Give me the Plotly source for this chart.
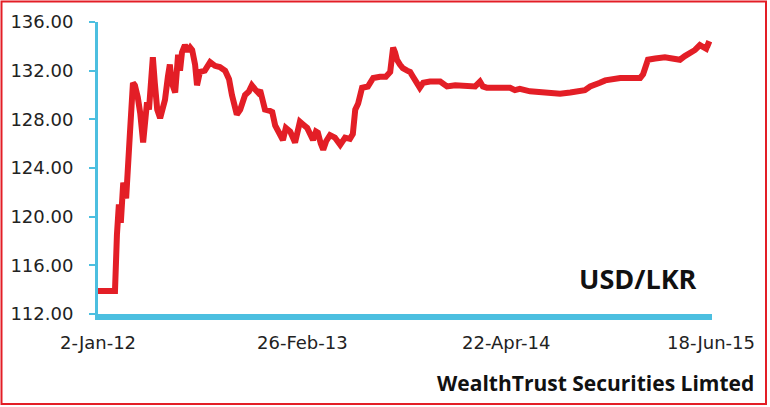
import plotly.graph_objects as go

dates = [
    "2012-01-02", "2012-02-06", "2012-02-10", "2012-02-14", "2012-02-18", "2012-02-23", "2012-02-29",
    "2012-03-04", "2012-03-08", "2012-03-14", "2012-03-18", "2012-03-24", "2012-03-29", "2012-04-04",
    "2012-04-08", "2012-04-12", "2012-04-16", "2012-04-20", "2012-04-24", "2012-04-28", "2012-05-03",
    "2012-05-09", "2012-05-15", "2012-05-19", "2012-05-25", "2012-05-29", "2012-06-02", "2012-06-09",
    "2012-06-15", "2012-06-19", "2012-06-23", "2012-06-29", "2012-07-05", "2012-07-10", "2012-07-14",
    "2012-07-20", "2012-07-24", "2012-07-30", "2012-08-09", "2012-08-20", "2012-08-30", "2012-09-09",
    "2012-09-20", "2012-09-28", "2012-10-04", "2012-10-10", "2012-10-14", "2012-10-21", "2012-10-31",
    "2012-11-08", "2012-11-14", "2012-11-20", "2012-11-27", "2012-12-01", "2012-12-07", "2012-12-11",
    "2012-12-21", "2012-12-26", "2013-01-01", "2013-01-07", "2013-01-13", "2013-01-17", "2013-01-23",
    "2013-02-01", "2013-02-11", "2013-02-17", "2013-02-21", "2013-02-27", "2013-03-08", "2013-03-14",
    "2013-03-20", "2013-03-26", "2013-03-30", "2013-04-05", "2013-04-10", "2013-04-16", "2013-04-24",
    "2013-05-04", "2013-05-15", "2013-05-25", "2013-06-04", "2013-06-10", "2013-06-15", "2013-06-21",
    "2013-06-29", "2013-07-11", "2013-07-22", "2013-08-05", "2013-08-17", "2013-08-26", "2013-09-01",
    "2013-09-05", "2013-09-09", "2013-09-15", "2013-09-21", "2013-09-30", "2013-10-06", "2013-10-12",
    "2013-10-16", "2013-10-22", "2013-10-26", "2013-11-02", "2013-11-16", "2013-12-07", "2013-12-21",
    "2014-01-07", "2014-01-27", "2014-02-17", "2014-02-27", "2014-03-05", "2014-03-13", "2014-03-30",
    "2014-04-09", "2014-04-30", "2014-05-10", "2014-05-20", "2014-06-10", "2014-07-01", "2014-07-21",
    "2014-08-11", "2014-09-01", "2014-09-21", "2014-10-01", "2014-10-12", "2014-10-22", "2014-11-01",
    "2014-11-12", "2014-11-22", "2014-12-02", "2014-12-13", "2015-01-02", "2015-01-23", "2015-01-29",
    "2015-02-04", "2015-02-08", "2015-02-23", "2015-03-15", "2015-03-30", "2015-04-15", "2015-04-25",
    "2015-05-06", "2015-05-16", "2015-05-26", "2015-06-01", "2015-06-08", "2015-06-12", "2015-06-18",
]

usd_lkr = [
    113.9, 113.9, 118.5, 121.0, 119.5, 122.8, 121.5,
    123.5, 127.0, 131.0, 130.8, 129.8, 128.5, 126.1,
    128.5, 129.4, 128.8, 131.5, 133.1, 131.0, 128.8,
    128.1, 129.0, 129.6, 131.5, 132.5, 131.0, 130.2,
    133.3, 132.0, 133.5, 134.1, 133.6, 133.9, 133.7,
    132.5, 130.8, 131.9, 132.0, 132.7, 132.4, 132.3,
    132.0, 131.3, 130.0, 129.0, 128.4, 128.8, 130.0,
    130.3, 130.8, 130.5, 130.2, 130.4, 129.3, 128.8,
    128.7, 128.6, 127.5, 127.1, 126.8, 126.3, 127.3,
    127.0, 126.1, 127.0, 127.8, 127.6, 127.3, 126.8,
    126.3, 127.0, 126.9, 126.0, 125.5, 126.2, 126.7,
    126.5, 125.9, 126.5, 126.4, 126.8, 128.8, 129.3,
    130.6, 130.7, 131.4, 131.5, 131.5, 131.9, 133.9,
    133.5, 132.9, 132.5, 132.2, 132.0, 131.9, 131.5,
    131.2, 130.9, 130.6, 131.0, 131.1, 131.1, 130.7,
    130.8, 130.7, 130.7, 131.1, 130.7, 130.6, 130.6,
    130.6, 130.6, 130.4, 130.5, 130.3, 130.2, 130.2,
    130.1, 130.2, 130.3, 130.4, 130.7, 130.8, 131.0,
    131.2, 131.3, 131.4, 131.4, 131.4, 131.4, 131.7,
    132.4, 132.9, 133.0, 133.1, 133.0, 132.9, 133.2,
    133.4, 133.7, 134.1, 133.9, 133.8, 134.2, 134.1,
]

tick_dates = ["2012-01-02", "2013-02-26", "2014-04-22", "2015-06-18"]
tick_labels = ["2-Jan-12", "26-Feb-13", "22-Apr-14", "18-Jun-15"]
y_ticks = [112, 116, 120, 124, 128, 132, 136]

RED = "#e31e26"
CYAN = "#4cbfe0"

fig = go.Figure()
fig.add_trace(go.Scatter(
    x=dates, y=usd_lkr, mode="lines",
    line=dict(color=RED, width=6), hoverinfo="skip", showlegend=False,
))

W, H = 770, 407
L, R, T, B = 98, 58, 22, 93
pw, ph = W - L - R, H - T - B


def px_to_paper(px, py):
    return (px - L) / pw, (H - B - py) / ph


x0, y1 = px_to_paper(1.5, 1.5)
x1, y0 = px_to_paper(766, 404)

fig.update_layout(
    width=W, height=H,
    margin=dict(l=L, r=R, t=T, b=B, autoexpand=False),
    paper_bgcolor="white", plot_bgcolor="white",
    xaxis=dict(
        type="date", range=["2012-01-02", "2015-06-20"],
        tickvals=tick_dates, ticktext=tick_labels,
        showgrid=False, zeroline=False, automargin=False,
        showline=True, linecolor=CYAN, linewidth=6,
        ticks="", tickfont=dict(family="DejaVu Sans", size=18, color="#222222"),
        ticklabelstandoff=7,
    ),
    yaxis=dict(
        range=[112, 136], tickvals=y_ticks,
        ticktext=[f"{v:.2f}" for v in y_ticks],
        showgrid=False, zeroline=False, automargin=False,
        showline=True, linecolor=CYAN, linewidth=3,
        ticks="outside", ticklen=6, tickwidth=2, tickcolor=CYAN,
        tickfont=dict(family="DejaVu Sans", size=18, color="#222222"),
        ticklabelstandoff=12,
    ),
    shapes=[dict(
        type="rect", xref="paper", yref="paper",
        x0=x0, x1=x1, y0=y0, y1=y1,
        line=dict(color=RED, width=2), layer="below",
    )],
    annotations=[
        dict(text="<b>USD/LKR</b>", xref="paper", yref="paper",
             x=px_to_paper(638, 278)[0], y=px_to_paper(638, 278)[1],
             showarrow=False, xanchor="center", yanchor="middle",
             font=dict(family="Open Sans", size=27, color="#111111")),
        dict(text="<b>WealthTrust Securities Limted</b>", xref="paper", yref="paper",
             x=px_to_paper(595, 383)[0], y=px_to_paper(595, 383)[1],
             showarrow=False, xanchor="center", yanchor="middle",
             font=dict(family="Open Sans", size=21, color="#111111")),
    ],
)

fig.write_html(
    "out.html",
    config={"displayModeBar": False, "staticPlot": True},
    post_script="document.body.style.margin='0';document.body.style.padding='0';",
)
